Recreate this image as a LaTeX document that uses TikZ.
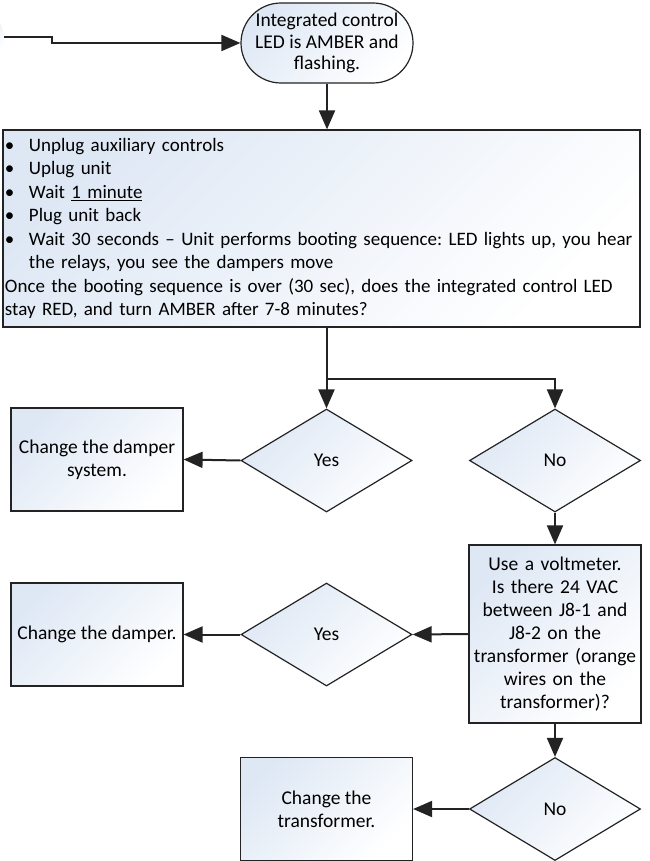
\documentclass[tikz,border=0pt]{standalone}
\usepackage{fontspec}
\setmainfont{Carlito}
\usetikzlibrary{shapes.geometric,arrows.meta}
\definecolor{fillblue}{RGB}{214,226,242}
\definecolor{linegray}{RGB}{35,35,35}
\frenchspacing
\begin{document}
\begin{tikzpicture}[x=1pt,y=-1pt,
  shapebox/.style={draw=linegray, line width=1.2pt, top color=fillblue!80!white, bottom color=white, shading angle=45,
    font=\fontsize{19.5}{23}\selectfont, align=center, inner sep=3pt},
  rectbox/.style={shapebox, minimum width=172pt, minimum height=103pt},
  decision/.style={shapebox, shape=diamond, inner sep=0pt, minimum width=171pt, minimum height=103pt},
  conn/.style={draw=linegray, line width=2pt},
  arr/.style={conn, -{Triangle[length=19pt,width=16pt]}}
]
\useasboundingbox (0,0) rectangle (649,861);
\clip (0,0) rectangle (649,861);
\fill[white] (0,0) rectangle (649,861);

\node[circle, top color=fillblue, bottom color=white, shading angle=45, minimum size=52pt, inner sep=0pt] (offl) at (-22,37) {};

\node[shapebox, rounded corners=40pt, minimum width=172pt, minimum height=80pt, font=\fontsize{19.5}{21.7}\selectfont] (start) at (327,43) {Integrated control\\LED is AMBER and\\flashing.};

\node[shapebox, minimum width=637pt, minimum height=197pt, text width=633pt, inner sep=2pt, align=left, font=\fontsize{19}{23.5}\selectfont] (steps) at (321.5,228.5)
{\makebox[24pt][l]{\textbullet}Unplug auxiliary controls\\
\makebox[24pt][l]{\textbullet}Uplug unit\\
\makebox[24pt][l]{\textbullet}Wait \underline{1 minute}\\
\makebox[24pt][l]{\textbullet}Plug unit back\\
\makebox[24pt][l]{\textbullet}Wait 30 seconds – Unit performs booting sequence: LED lights up, you hear\\
\hspace*{24pt}the relays, you see the dampers move\\
Once the booting sequence is over (30 sec), does the integrated control LED\\
stay RED, and turn AMBER after 7-8 minutes?};

\node[decision] (yes1) at (326.5,460.5) {Yes};
\node[decision] (no1) at (555,460.5) {No};
\node[rectbox] (r1) at (97,459.5) {Change the damper\\system.};
\node[shapebox, minimum width=172pt, minimum height=178pt, text width=166pt] (volt) at (555,634)
{Use a voltmeter.\\Is there 24 VAC\\between J8-1 and\\J8-2 on the\\transformer (orange\\wires on the\\transformer)?};
\node[decision] (yes2) at (326.5,634.5) {Yes};
\node[rectbox] (r2) at (97,634.5) {Change the damper.};
\node[decision] (no2) at (555,809) {No};
\node[rectbox] (r3) at (326.5,809) {Change the\\transformer.};

\coordinate (split) at (326.5,379);
\draw[arr] (offl.east |- 0,37) -- (52,37) -- (52,43) -- (start.west);
\draw[arr] (start.south) -- (start.south |- steps.north);
\draw[arr] (yes1.north |- steps.south) -- (yes1.north);
\draw[arr] (split) -| (no1.north);
\draw[arr] (yes1.west) -- (r1.east);
\draw[arr] (no1.south) -- (volt.north);
\draw[arr] (volt.west) -- (yes2.east);
\draw[arr] (yes2.west) -- (r2.east);
\draw[arr] (volt.south) -- (no2.north);
\draw[arr] (no2.west) -- (r3.east);
\end{tikzpicture}
\end{document}
